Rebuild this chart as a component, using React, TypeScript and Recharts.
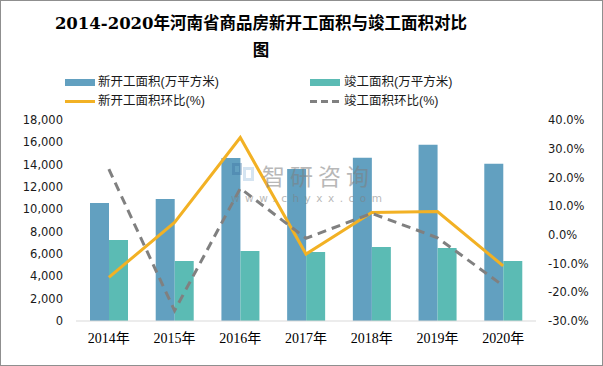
import { ComposedChart, Bar, Line, XAxis, YAxis } from 'recharts';

const years = ['2014年', '2015年', '2016年', '2017年', '2018年', '2019年', '2020年'];
const newStart = [10570, 10930, 14600, 13610, 14630, 15790, 14080];
const completed = [7250, 5380, 6270, 6180, 6630, 6540, 5380];
const newStartGrowth = [-14.8, 4.3, 33.9, -6.7, 7.8, 8.1, -10.8];
const completedGrowth = [22.9, -26.4, 16.2, -1.2, 7.5, -1.0, -17.7];
const leftTicks = [0, 2000, 4000, 6000, 8000, 10000, 12000, 14000, 16000, 18000];
const rightTicks = [-30, -20, -10, 0, 10, 20, 30, 40];

const BLUE = '#62a0c0';
const GREEN = '#5bbbb4';
const GOLD = '#f2b124';
const GRAY = '#808080';

const data = years.map((year, i) => ({
  year,
  newStart: newStart[i],
  completed: completed[i],
  newStartGrowth: newStartGrowth[i],
  completedGrowth: completedGrowth[i],
}));

const legendText = {
  position: 'absolute' as const,
  fontFamily: "'Liberation Sans', 'Noto Sans CJK SC', sans-serif",
  fontSize: 12.5,
  color: '#1a1a1a',
  whiteSpace: 'nowrap' as const,
  lineHeight: '14px',
};

export default function App() {
  return (
    <div style={{ position: 'absolute', left: 0, top: 0, width: 603, height: 366, background: '#fff', overflow: 'hidden' }}>
      <div
        style={{
          position: 'absolute',
          left: 0,
          top: 10,
          width: 522,
          textAlign: 'center',
          fontFamily: "'DejaVu Serif', 'Noto Sans CJK SC', serif",
          fontWeight: 'bold',
          fontSize: 16.5,
          lineHeight: '27px',
          color: '#000',
        }}
      >
        <div>2014-2020年河南省商品房新开工面积与竣工面积对比</div>
        <div>图</div>
      </div>

      {/* legend */}
      <div style={{ position: 'absolute', left: 65, top: 79, width: 30, height: 7, background: BLUE }} />
      <div style={{ ...legendText, left: 98, top: 75 }}>新开工面积(万平方米)</div>
      <div style={{ position: 'absolute', left: 310, top: 79, width: 30, height: 7, background: GREEN }} />
      <div style={{ ...legendText, left: 344, top: 75 }}>竣工面积(万平方米)</div>
      <div style={{ position: 'absolute', left: 65, top: 100, width: 30, height: 3, background: GOLD }} />
      <div style={{ ...legendText, left: 98, top: 94 }}>新开工面积环比(%)</div>
      <svg style={{ position: 'absolute', left: 310, top: 99 }} width={32} height={5}>
        <line x1={0} y1={2.5} x2={30} y2={2.5} stroke={GRAY} strokeWidth={3} strokeDasharray="7 4" />
      </svg>
      <div style={{ ...legendText, left: 344, top: 94 }}>竣工面积环比(%)</div>

      <div style={{ position: 'absolute', left: 0, top: 0 }}>
        <ComposedChart
          width={603}
          height={366}
          data={data}
          margin={{ top: 120, right: 0, bottom: 15, left: 0 }}
          barGap={0}
        >
          <XAxis
            dataKey="year"
            axisLine={{ stroke: '#d9d9d9' }}
            tickLine={false}
            tickSize={0}
            tickMargin={12}
            height={30}
            interval={0}
            tick={{ fill: '#000', fontSize: 14, fontFamily: "'Liberation Serif', 'Noto Sans CJK SC', serif" }}
          />
          <YAxis
            yAxisId="left"
            width={76}
            domain={[0, 18000]}
            ticks={leftTicks}
            axisLine={false}
            tickLine={false}
            tickSize={0}
            tickMargin={13}
            tickFormatter={(v: number) => v.toLocaleString('en-US')}
            tick={{ fill: '#1a1a1a', fontSize: 11.5, fontFamily: "'DejaVu Sans', sans-serif" }}
          />
          <YAxis
            yAxisId="right"
            orientation="right"
            width={67}
            domain={[-30, 40]}
            ticks={rightTicks}
            axisLine={false}
            tickLine={false}
            tickSize={0}
            tickMargin={12}
            tickFormatter={(v: number) => `${v.toFixed(1)}%`}
            tick={{ fill: '#1a1a1a', fontSize: 11.5, fontFamily: "'DejaVu Sans', sans-serif" }}
          />
          <Bar yAxisId="left" dataKey="newStart" fill={BLUE} barSize={19} isAnimationActive={false} />
          <Bar yAxisId="left" dataKey="completed" fill={GREEN} barSize={19} isAnimationActive={false} />
          <Line
            yAxisId="right"
            dataKey="newStartGrowth"
            stroke={GOLD}
            strokeWidth={3}
            dot={false}
            type="linear"
            isAnimationActive={false}
          />
          <Line
            yAxisId="right"
            dataKey="completedGrowth"
            stroke={GRAY}
            strokeWidth={3}
            strokeDasharray="9 6"
            dot={false}
            type="linear"
            isAnimationActive={false}
          />
        </ComposedChart>
      </div>

      {/* watermark */}
      <div style={{ position: 'absolute', left: 232, top: 163, width: 22, height: 22, opacity: 0.35 }}>
        <div style={{ position: 'absolute', left: 0, top: 0, width: 10, height: 12, border: '3px solid #3a6fa0', boxSizing: 'border-box' }} />
        <div style={{ position: 'absolute', left: 11, top: 4, width: 11, height: 14, border: '3px solid #8ab4d8', boxSizing: 'border-box' }} />
      </div>
      <div
        style={{
          position: 'absolute',
          left: 262,
          top: 163,
          fontFamily: "'Noto Sans CJK SC', sans-serif",
          fontSize: 23,
          letterSpacing: 5,
          color: '#7f7f7f',
          opacity: 0.55,
          lineHeight: '24px',
          whiteSpace: 'nowrap',
        }}
      >
        智研咨询
      </div>
      <div
        style={{
          position: 'absolute',
          left: 231,
          top: 193,
          fontFamily: "'DejaVu Sans', sans-serif",
          fontSize: 10.5,
          lineHeight: '11px',
          letterSpacing: 5.5,
          color: '#7f7f7f',
          opacity: 0.55,
          whiteSpace: 'nowrap',
        }}
      >
        www.chyxx.com
      </div>

      <div style={{ position: 'absolute', left: 0, top: 0, width: 603, height: 366, border: '1px solid #8f8f8f', boxSizing: 'border-box', pointerEvents: 'none' }} />
    </div>
  );
}
